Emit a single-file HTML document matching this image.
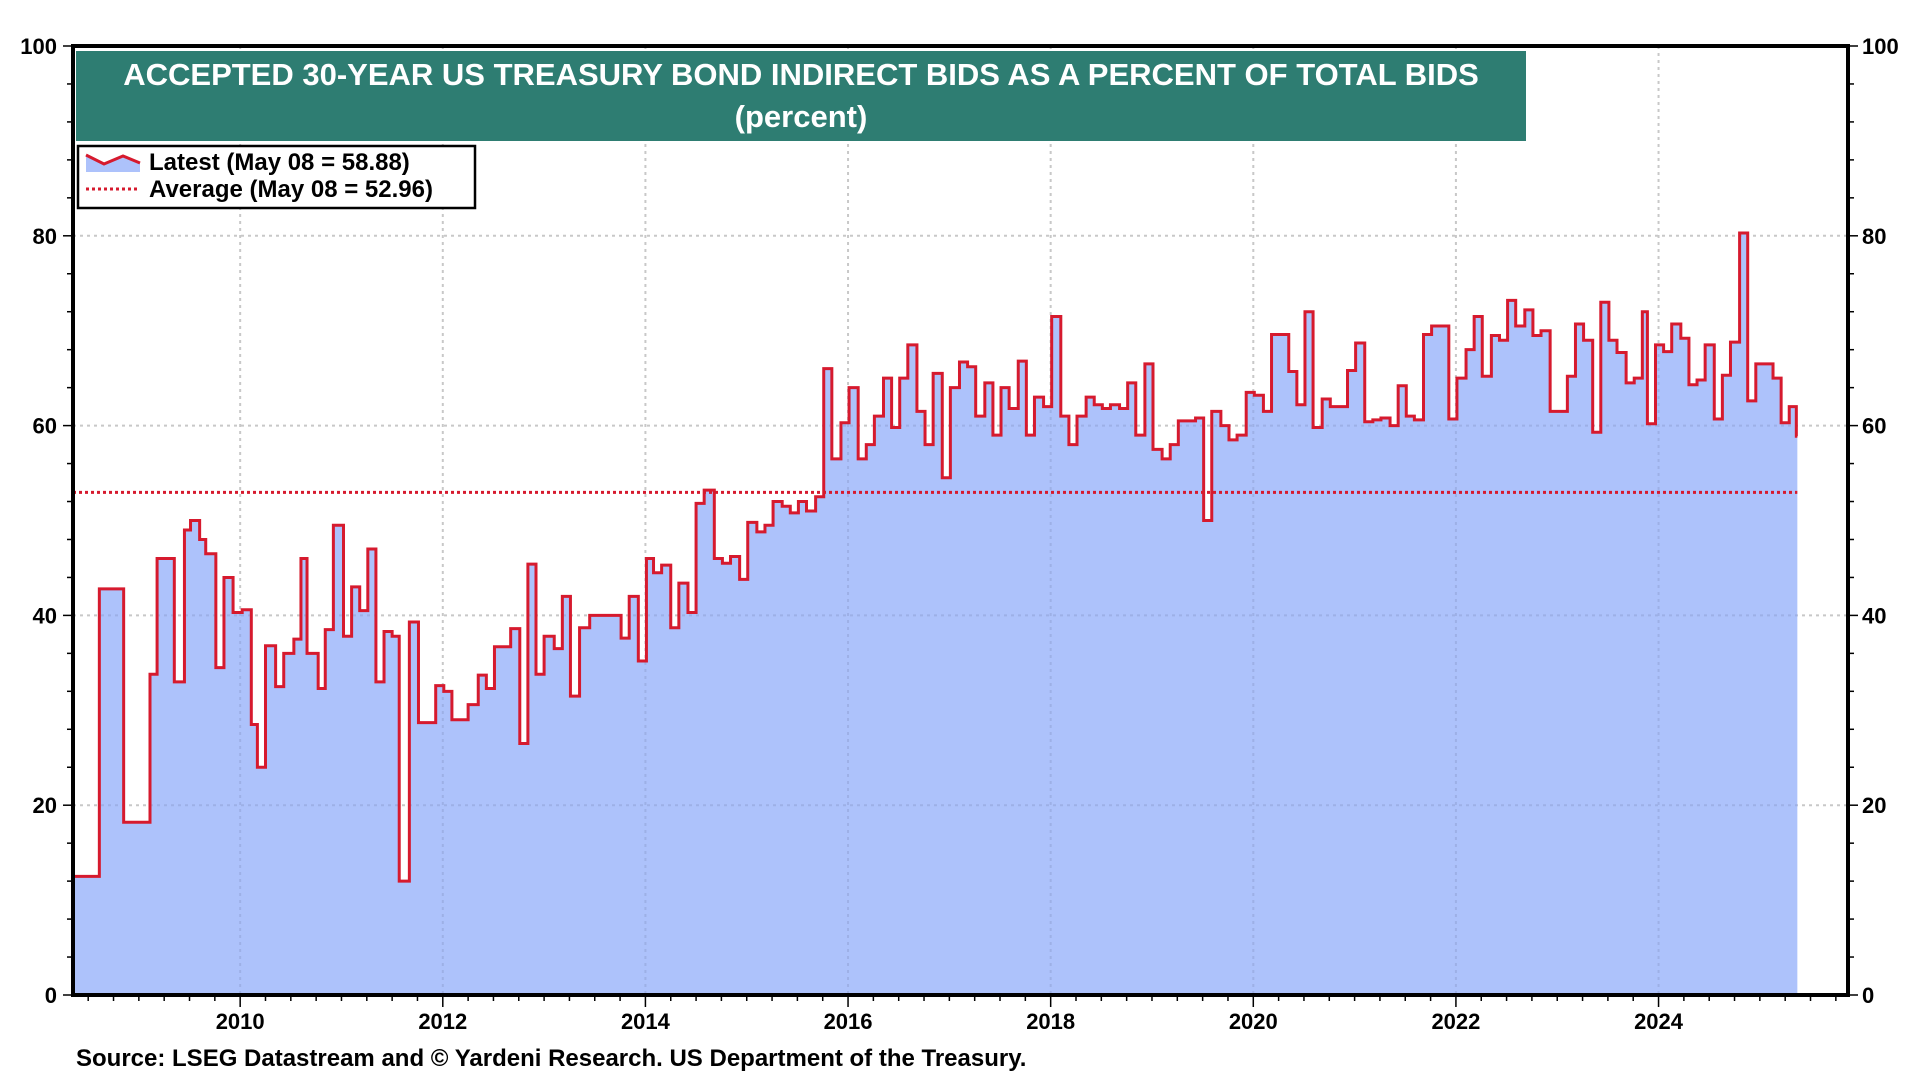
<!DOCTYPE html>
<html><head><meta charset="utf-8"><style>
html,body{margin:0;padding:0;background:#fff;width:1920px;height:1080px;overflow:hidden}
svg{display:block;font-family:"Liberation Sans",Arial,sans-serif;font-weight:bold}
</style></head><body>
<svg id="chart" width="1920" height="1080">
<defs><clipPath id="areaclip"><path id="clippath" d=""/></clipPath></defs>
<g id="grid"></g>
<g id="series"></g>
<g id="axes"></g>
<rect x="76" y="51" width="1450" height="90" fill="#2e7d72"/>
<text x="801" y="85" text-anchor="middle" fill="#fff" font-size="31">ACCEPTED 30-YEAR US TREASURY BOND INDIRECT BIDS AS A PERCENT OF TOTAL BIDS</text>
<text x="801" y="127" text-anchor="middle" fill="#fff" font-size="31">(percent)</text>
<g>
<rect x="78" y="146" width="397" height="62" fill="#fff" stroke="#000" stroke-width="2.5"/>
<g>
<polygon points="86,155 104,164 123,156 140,163 140,172 86,172" fill="#adc2fb"/>
<polyline points="86,155 104,164 123,156 140,163" fill="none" stroke="#d61a2e" stroke-width="3"/>
<text x="149" y="170" font-size="24">Latest (May 08 = 58.88)</text>
</g>
<g>
<line x1="86" y1="189" x2="140" y2="189" stroke="#d61a2e" stroke-width="3" stroke-dasharray="3,3"/>
<text x="149" y="197" font-size="24">Average (May 08 = 52.96)</text>
</g>
</g>
<text x="76" y="1066" font-size="24">Source: LSEG Datastream and © Yardeni Research. US Department of the Treasury.</text>
</svg>
<script>
const dates=[2008.35,2008.61,2008.85,2009.11,2009.18,2009.35,2009.45,2009.51,2009.60,2009.66,2009.76,2009.84,2009.93,2010.02,2010.11,2010.17,2010.25,2010.35,2010.43,2010.53,2010.60,2010.66,2010.77,2010.84,2010.92,2011.02,2011.10,2011.18,2011.26,2011.34,2011.42,2011.50,2011.57,2011.67,2011.76,2011.93,2012.01,2012.09,2012.25,2012.35,2012.43,2012.51,2012.67,2012.76,2012.84,2012.92,2013.00,2013.10,2013.18,2013.26,2013.35,2013.45,2013.76,2013.84,2013.93,2014.01,2014.08,2014.16,2014.25,2014.33,2014.42,2014.50,2014.58,2014.68,2014.76,2014.84,2014.93,2015.01,2015.10,2015.18,2015.26,2015.35,2015.43,2015.51,2015.59,2015.68,2015.76,2015.84,2015.93,2016.01,2016.10,2016.18,2016.26,2016.35,2016.43,2016.51,2016.59,2016.68,2016.76,2016.84,2016.93,2017.01,2017.10,2017.18,2017.26,2017.35,2017.43,2017.51,2017.59,2017.68,2017.76,2017.84,2017.93,2018.01,2018.10,2018.18,2018.26,2018.35,2018.43,2018.51,2018.59,2018.68,2018.76,2018.84,2018.93,2019.01,2019.10,2019.18,2019.26,2019.43,2019.51,2019.59,2019.68,2019.76,2019.84,2019.93,2020.01,2020.10,2020.18,2020.35,2020.43,2020.51,2020.59,2020.68,2020.76,2020.93,2021.01,2021.10,2021.18,2021.26,2021.35,2021.43,2021.51,2021.59,2021.68,2021.76,2021.93,2022.01,2022.10,2022.18,2022.26,2022.35,2022.43,2022.51,2022.59,2022.68,2022.76,2022.84,2022.93,2023.10,2023.18,2023.26,2023.35,2023.43,2023.51,2023.59,2023.68,2023.76,2023.84,2023.89,2023.97,2024.05,2024.13,2024.22,2024.30,2024.38,2024.46,2024.55,2024.63,2024.71,2024.80,2024.88,2024.96,2025.13,2025.21,2025.29,2025.36];
const values=[12.5,42.8,18.2,33.8,46.0,33.0,49.0,50.0,48.0,46.5,34.5,44.0,40.3,40.6,28.5,24.0,36.8,32.5,36.0,37.5,46.0,36.0,32.3,38.5,49.5,37.8,43.0,40.5,47.0,33.0,38.3,37.8,12.0,39.3,28.7,32.6,32.0,29.0,30.6,33.7,32.3,36.7,38.6,26.5,45.4,33.8,37.8,36.5,42.0,31.5,38.7,40.0,37.6,42.0,35.2,46.0,44.5,45.3,38.7,43.4,40.3,51.8,53.2,46.0,45.5,46.2,43.8,49.8,48.8,49.5,52.0,51.5,50.8,52.0,51.0,52.5,66.0,56.5,60.3,64.0,56.5,58.0,61.0,65.0,59.8,65.0,68.5,61.5,58.0,65.5,54.5,64.0,66.7,66.2,61.0,64.5,59.0,64.0,61.8,66.8,59.0,63.0,62.0,71.5,61.0,58.0,61.0,63.0,62.2,61.8,62.2,61.8,64.5,59.0,66.5,57.5,56.5,58.0,60.5,60.8,50.0,61.5,60.0,58.5,59.0,63.5,63.2,61.5,69.6,65.7,62.2,72.0,59.8,62.8,62.0,65.8,68.7,60.4,60.6,60.8,60.0,64.2,61.0,60.6,69.6,70.5,60.7,65.0,68.0,71.5,65.2,69.5,69.0,73.2,70.5,72.2,69.5,70.0,61.5,65.2,70.7,69.0,59.3,73.0,69.0,67.7,64.5,65.0,72.0,60.2,68.5,67.8,70.7,69.2,64.3,64.8,68.5,60.7,65.3,68.8,80.3,62.6,66.5,65.0,60.3,62.0,58.88];
const average=52.96;
const yTicks=[0,20,40,60,80,100];
const xTickYears=[2010,2012,2014,2016,2018,2020,2022,2024];
const endDate=2025.37;

const L=73,R=1848,T=46,B=995,X0=2008.35,X1=2025.87;
const xs=d=>L+(d-X0)/(X1-X0)*(R-L);
const ys=v=>B-v/100*(B-T);
const NS="http://www.w3.org/2000/svg";
function mk(parent,tag,attrs){const e=document.createElementNS(NS,tag);for(const k in attrs)e.setAttribute(k,attrs[k]);document.getElementById(parent).appendChild(e);return e;}

yTicks.forEach(v=>{if(v===0||v===100)return;
 const g=mk('grid','line',{x1:L,x2:R,y1:ys(v),y2:ys(v),stroke:'#c8c8c8','stroke-width':2,'stroke-dasharray':'3,4'});
 
 });
xTickYears.forEach(y=>{
 const g=mk('grid','line',{x1:xs(y),x2:xs(y),y1:T,y2:B,stroke:'#c8c8c8','stroke-width':2,'stroke-dasharray':'3,4'});
 
 });

let d=`M${xs(dates[0])},${ys(values[0])}`;
for(let i=1;i<dates.length;i++){d+=`H${xs(dates[i])}V${ys(values[i])}`;}
d+=`H${xs(endDate)}`;
const areaD=d+`V${B}H${xs(dates[0])}Z`;
document.getElementById('clippath').setAttribute('d',areaD);
const area=mk('series','path',{d:areaD,fill:'#adc2fb',stroke:'none'});


xTickYears.forEach(y=>{
 const g=mk('series','line',{x1:xs(y),x2:xs(y),y1:T,y2:B,stroke:'#9db0e6','stroke-width':2,'stroke-dasharray':'3,4','clip-path':'url(#areaclip)'});
 
 });
yTicks.forEach(v=>{if(v===0||v===100)return;
 const g=mk('series','line',{x1:L,x2:xs(endDate),y1:ys(v),y2:ys(v),stroke:'#9db0e6','stroke-width':2,'stroke-dasharray':'3,4','clip-path':'url(#areaclip)'});
 
 });
const line=mk('series','path',{d:d,fill:'none',stroke:'#d61a2e','stroke-width':3,'stroke-linejoin':'miter'});


const avg=mk('series','line',{x1:L,x2:xs(endDate),y1:ys(average),y2:ys(average),stroke:'#d61a2e','stroke-width':3,'stroke-dasharray':'3,3'});



const fr=mk('axes','rect',{x:L,y:T,width:R-L,height:B-T,fill:'none',stroke:'#000','stroke-width':4});


for(let v=0;v<=100;v+=4){
 const len=(v%20===0)?10:6;
 mk('axes','line',{x1:L-len,x2:L,y1:ys(v),y2:ys(v),stroke:'#000','stroke-width':1.5});
 mk('axes','line',{x1:R,x2:R+len,y1:ys(v),y2:ys(v),stroke:'#000','stroke-width':1.5});
}
yTicks.forEach(v=>{
 const t1=mk('axes','text',{x:L-16,y:ys(v)+8,'text-anchor':'end','font-size':22});
 t1.textContent=v;
 
 
 const t2=mk('axes','text',{x:R+14,y:ys(v)+8,'text-anchor':'start','font-size':22});
 t2.textContent=v;
 
 
});
for(let q=Math.ceil(X0*4);q<=Math.floor(X1*4);q++){
 const yr=q/4;const major=(q%8===0);
 mk('axes','line',{x1:xs(yr),x2:xs(yr),y1:B,y2:B+(major?12:6),stroke:'#000','stroke-width':1.5});
}
xTickYears.forEach(y=>{
 const t=mk('axes','text',{x:xs(y),y:B+34,'text-anchor':'middle','font-size':22});
 t.textContent=y;
 
 
});
</script>
</body></html>
